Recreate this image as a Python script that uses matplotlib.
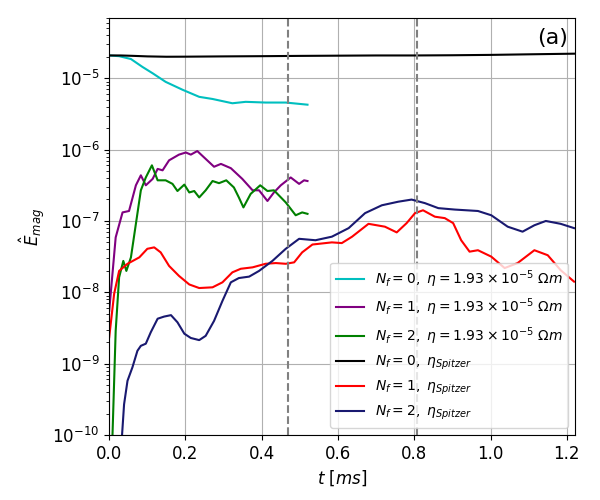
import numpy as np
import matplotlib
matplotlib.use('Agg')
import matplotlib.pyplot as plt

# log10 of E_mag, times in ms
t_c = [0, 0.026, 0.057, 0.087, 0.114, 0.148, 0.192, 0.236, 0.271, 0.323, 0.358, 0.41, 0.463, 0.52]
lg_c = [-4.68, -4.69, -4.73, -4.84, -4.93, -5.05, -5.16, -5.26, -5.29, -5.35, -5.33, -5.34, -5.34, -5.37]

t_p = [0, 0.017, 0.035, 0.052, 0.07, 0.083, 0.096, 0.114, 0.127, 0.14, 0.157, 0.183, 0.201,
       0.214, 0.231, 0.249, 0.275, 0.293, 0.319, 0.349, 0.376, 0.393, 0.415, 0.432, 0.45,
       0.476, 0.498, 0.511, 0.52]
lg_p = [-8.26, -7.23, -6.88, -6.86, -6.5, -6.36, -6.5, -6.41, -6.27, -6.29, -6.15, -6.07, -6.04,
        -6.07, -6.02, -6.11, -6.24, -6.2, -6.26, -6.41, -6.57, -6.57, -6.72, -6.6, -6.5,
        -6.39, -6.48, -6.43, -6.44]

t_g = [0.005, 0.009, 0.017, 0.026, 0.037, 0.045, 0.057, 0.07, 0.083, 0.096, 0.112, 0.127, 0.148,
       0.166, 0.179, 0.197, 0.21, 0.223, 0.236, 0.253, 0.271, 0.288, 0.307, 0.327, 0.34,
       0.352, 0.371, 0.396, 0.415, 0.432, 0.463, 0.489, 0.506, 0.52]
lg_g = [-10.6, -9.94, -8.54, -7.79, -7.56, -7.7, -7.51, -7.04, -6.57, -6.39, -6.22, -6.43, -6.43,
        -6.48, -6.58, -6.49, -6.6, -6.58, -6.67, -6.57, -6.44, -6.47, -6.43, -6.53, -6.67,
        -6.81, -6.62, -6.5, -6.58, -6.57, -6.74, -6.92, -6.88, -6.9]

t_k = [0, 0.03, 0.06, 0.1, 0.15, 0.2, 0.3, 0.4, 0.5, 0.6, 0.7, 0.8, 0.9, 1.0, 1.1, 1.22]
lg_k = [-4.68, -4.68, -4.685, -4.693, -4.698, -4.697, -4.693, -4.69, -4.686, -4.683,
        -4.68, -4.68, -4.677, -4.672, -4.664, -4.655]

t_r = [0, 0.013, 0.026, 0.048, 0.079, 0.1, 0.118, 0.135, 0.157, 0.183, 0.21, 0.236, 0.271,
       0.297, 0.323, 0.345, 0.376, 0.41, 0.437, 0.463, 0.485, 0.506, 0.533, 0.584, 0.61,
       0.637, 0.68, 0.723, 0.754, 0.78, 0.802, 0.823, 0.854, 0.88, 0.902, 0.923, 0.945,
       0.967, 1.002, 1.037, 1.071, 1.115, 1.15, 1.184, 1.219]
lg_r = [-8.63, -8.02, -7.7, -7.6, -7.51, -7.39, -7.37, -7.44, -7.63, -7.77, -7.89, -7.94, -7.93,
        -7.86, -7.72, -7.67, -7.65, -7.6, -7.59, -7.6, -7.58, -7.44, -7.33, -7.3, -7.31,
        -7.22, -7.04, -7.08, -7.16, -7.03, -6.89, -6.85, -6.94, -6.96, -7.03, -7.27, -7.43,
        -7.41, -7.5, -7.66, -7.59, -7.41, -7.48, -7.69, -7.85]

t_n = [0.03, 0.039, 0.048, 0.061, 0.074, 0.083, 0.096, 0.109, 0.127, 0.144, 0.162, 0.179, 0.197,
       0.214, 0.236, 0.253, 0.275, 0.297, 0.319, 0.34, 0.367, 0.393, 0.428, 0.463, 0.498,
       0.541, 0.584, 0.628, 0.671, 0.715, 0.758, 0.793, 0.828, 0.863, 0.906, 0.967, 1.002,
       1.045, 1.084, 1.115, 1.145, 1.184, 1.219]
lg_n = [-10.3, -9.57, -9.24, -9.05, -8.82, -8.75, -8.72, -8.56, -8.37, -8.34, -8.32, -8.42, -8.58,
        -8.64, -8.67, -8.61, -8.4, -8.12, -7.86, -7.8, -7.78, -7.7, -7.56, -7.39, -7.25,
        -7.27, -7.22, -7.1, -6.89, -6.78, -6.73, -6.7, -6.75, -6.82, -6.84, -6.86, -6.92,
        -7.08, -7.15, -7.06, -7.0, -7.04, -7.1]

vlines = [0.469, 0.807]

const_lbl = r'$\ \eta=1.93\times10^{-5}\ \Omega m$'
spitz_lbl = r'$\ \eta_{Spitzer}$'

series = [
    (t_c, lg_c, 'c', r'$N_f=0,$' + const_lbl),
    (t_p, lg_p, 'purple', r'$N_f=1,$' + const_lbl),
    (t_g, lg_g, 'green', r'$N_f=2,$' + const_lbl),
    (t_k, lg_k, 'black', r'$N_f=0,$' + spitz_lbl),
    (t_r, lg_r, 'red', r'$N_f=1,$' + spitz_lbl),
    (t_n, lg_n, 'midnightblue', r'$N_f=2,$' + spitz_lbl),
]

fig = plt.figure(figsize=(6, 5), dpi=100)
ax = fig.add_axes([0.182, 0.13, 0.776, 0.834])

for t, lg, col, lbl in series:
    ax.plot(t, 10 ** np.array(lg), color=col, lw=1.5, label=lbl)

for v in vlines:
    ax.axvline(v, color='grey', ls='--', lw=1.5)

ax.set_yscale('log')
ax.set_xlim(0, 1.221)
ax.set_ylim(1e-10, 7e-5)
ax.grid(True, which='major')
ax.set_xlabel(r'$t\ [ms]$', fontsize=12)
ax.set_ylabel(r'$\hat{E}_{mag}$', fontsize=12)
ax.tick_params(axis='both', labelsize=12)
ax.text(0.985, 0.975, '(a)', transform=ax.transAxes, fontsize=16,
        ha='right', va='top')
ax.legend(loc='lower right', fontsize=10)

fig.savefig('out.png', dpi=100)
